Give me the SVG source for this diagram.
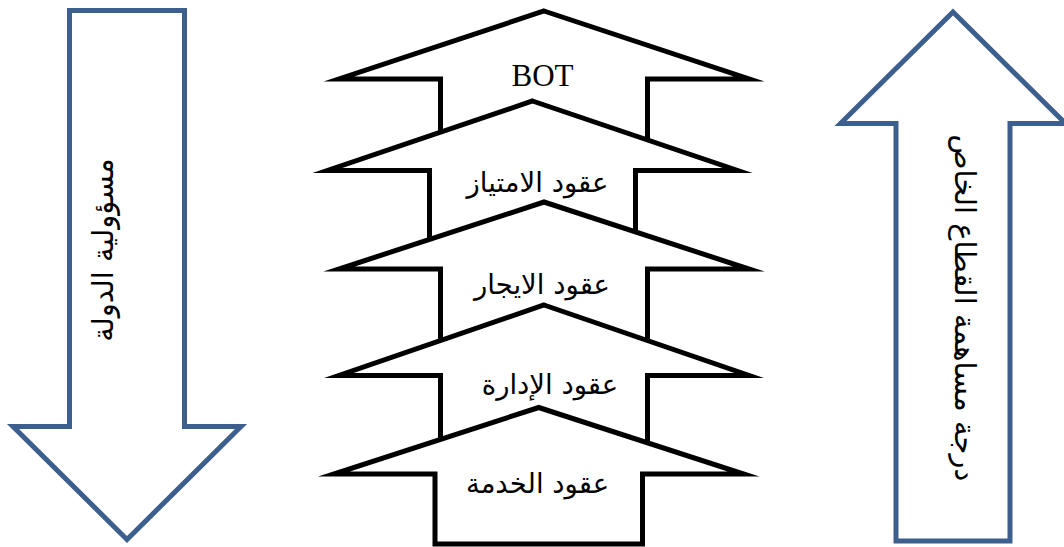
<svg xmlns="http://www.w3.org/2000/svg" width="1064" height="547" viewBox="0 0 1064 547">
<style>
.bg{fill:#ffffff}
.side{fill:#ffffff;stroke:#3C5F8D;stroke-width:5;stroke-linejoin:miter;stroke-miterlimit:10}
.step{fill:#ffffff;stroke:#000000;stroke-width:5;stroke-linejoin:miter;stroke-miterlimit:10}
.ar{font-family:"DejaVu Sans",sans-serif;font-size:27.5px;fill:#000000;text-anchor:middle}
.arside{font-family:"DejaVu Sans",sans-serif;font-size:29px;fill:#000000;text-anchor:middle}
.lat{font-family:"Liberation Serif",serif;font-size:31px;fill:#000000;text-anchor:middle}
</style>
<rect class="bg" x="0" y="0" width="1064" height="547"/>
<g id="state-arrow">
<path class="side" d="M69.5,10.5 L184.5,10.5 L184.5,426.5 L241,426.5 L127,539.5 L13,426.5 L69.5,426.5 Z"/>
<text class="arside" direction="rtl" transform="translate(113,250) rotate(-90)">مسؤولية الدولة</text>
</g>
<g id="private-arrow">
<path class="side" d="M953,12 L1065.5,123.5 L1010,123.5 L1010,541 L896,541 L896,123.5 L840.5,123.5 Z"/>
<text class="arside" direction="rtl" transform="translate(955,308) rotate(90)">درجة مساهمة القطاع الخاص</text>
</g>
<g id="connectors"></g>
<g id="bot">
<path class="step" d="M544,11 L749,79 L647.5,79 L647.5,160 L440.5,160 L440.5,79 L339,79 Z"/>
<text class="lat" x="542.5" y="86">BOT</text>
</g>
<g id="concession">
<path class="step" d="M532.5,101 L737.5,170.5 L635.5,170.5 L635.5,255 L429.5,255 L429.5,170.5 L327.5,170.5 Z"/>
<text class="ar" direction="rtl" x="537.5" y="192">عقود الامتياز</text>
</g>
<g id="lease">
<path class="step" d="M544,202 L749,269 L647.5,269 L647.5,360 L440.5,360 L440.5,269 L339,269 Z"/>
<text class="ar" direction="rtl" x="542" y="294">عقود الايجار</text>
</g>
<g id="management">
<path class="step" d="M544,305 L749,375.5 L647.5,375.5 L647.5,460 L440.5,460 L440.5,375.5 L339,375.5 Z"/>
<text class="ar" direction="rtl" x="550" y="394">عقود الإدارة</text>
</g>
<g id="service">
<path class="step" d="M538.75,407.5 L743.75,474 L642.5,474 L642.5,544 L435,544 L435,474 L333.75,474 Z"/>
<text class="ar" direction="rtl" x="537.5" y="493">عقود الخدمة</text>
</g>
</svg>
